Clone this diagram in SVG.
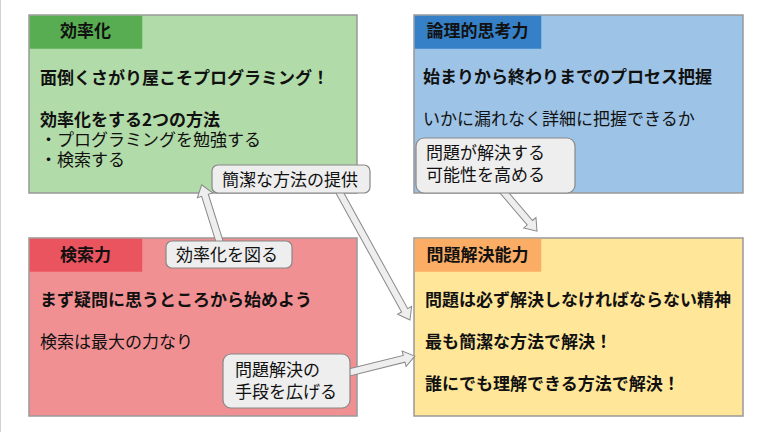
<svg xmlns="http://www.w3.org/2000/svg" width="770" height="432" viewBox="0 0 770 432">
<style>
text{font-family:"Noto Sans CJK JP","Noto Sans",sans-serif;font-size:17px;fill:#111}
.b{font-weight:bold}
.box{stroke:#999;stroke-width:1.5}
.hd{stroke:none}
.lbl{fill:#eeeeee;stroke:#888;stroke-width:1.2}
.arr{fill:#eeeeee;stroke:#888;stroke-width:1}
</style>
<rect x="0" y="0" width="770" height="432" fill="#ffffff"/>
<line x1="0.5" y1="0" x2="0.5" y2="432" stroke="#d0d0d0" stroke-width="1"/>
<g id="efficiency">
<rect class="box" x="29" y="15" width="328" height="178" fill="#b1dba8"/>
<rect class="hd" x="29.75" y="15.75" width="112.5" height="33" fill="#58ad52"/>
<text class="b" x="85.5" y="37" text-anchor="middle">効率化</text>
<text class="b" x="40" y="84">面倒くさがり屋こそプログラミング！</text>
<text class="b" x="40" y="126">効率化をする2つの方法</text>
<text x="40" y="146">・プログラミングを勉強する</text>
<text x="40" y="166">・検索する</text>
</g>
<g id="logic">
<rect class="box" x="414" y="15" width="329" height="178" fill="#9dc3e6"/>
<rect class="hd" x="414.75" y="15.75" width="126.5" height="33" fill="#3580c6"/>
<text class="b" x="477.5" y="37" text-anchor="middle">論理的思考力</text>
<text class="b" x="423" y="83">始まりから終わりまでのプロセス把握</text>
<text x="423" y="125">いかに漏れなく詳細に把握できるか</text>
</g>
<g id="search">
<rect class="box" x="29" y="238" width="328" height="178" fill="#f19092"/>
<rect class="hd" x="29.75" y="238.75" width="112.5" height="33" fill="#ea545e"/>
<text class="b" x="85.5" y="261" text-anchor="middle">検索力</text>
<text class="b" x="40" y="306">まず疑問に思うところから始めよう</text>
<text x="40" y="348">検索は最大の力なり</text>
</g>
<g id="solve">
<rect class="box" x="414" y="238" width="329" height="178" fill="#ffe699"/>
<rect class="hd" x="414.75" y="238.75" width="126.5" height="33" fill="#fbad65"/>
<text class="b" x="477.5" y="261" text-anchor="middle">問題解決能力</text>
<text class="b" x="425" y="306">問題は必ず解決しなければならない精神</text>
<text class="b" x="425" y="348">最も簡潔な方法で解決！</text>
<text class="b" x="425" y="390">誰にでも理解できる方法で解決！</text>
</g>
<g id="connectors">
<path class="arr" transform="translate(220,243) rotate(-107.5)" d="M0,-3.5 L50,-3.5 L50,-8 L61,0 L50,8 L50,3.5 L0,3.5 Z"/>
<path class="arr" transform="translate(336,186) rotate(61.1)" d="M0,-3.5 L142,-3.5 L142,-8 L153,0 L142,8 L142,3.5 L0,3.5 Z"/>
<path class="arr" transform="translate(343,374) rotate(-14)" d="M0,-3.5 L63,-3.5 L63,-8 L74,0 L63,8 L63,3.5 L0,3.5 Z"/>
<path class="arr" transform="translate(502,190) rotate(49.6)" d="M0,-3.5 L43,-3.5 L43,-8 L54,0 L43,8 L43,3.5 L0,3.5 Z"/>
</g>
<g id="label-provide">
<rect class="lbl" x="212" y="165" width="158" height="28" rx="6"/>
<text x="222" y="186">簡潔な方法の提供</text>
</g>
<g id="label-efficiency">
<rect class="lbl" x="166" y="241" width="126" height="27" rx="6"/>
<text x="176" y="261">効率化を図る</text>
</g>
<g id="label-means">
<rect class="lbl" x="223" y="354" width="127" height="54" rx="8"/>
<text x="235" y="376">問題解決の</text>
<text x="235" y="398">手段を広げる</text>
</g>
<g id="label-possibility">
<rect class="lbl" x="416" y="138" width="159" height="55" rx="8"/>
<text x="426" y="159">問題が解決する</text>
<text x="426" y="181">可能性を高める</text>
</g>
</svg>
